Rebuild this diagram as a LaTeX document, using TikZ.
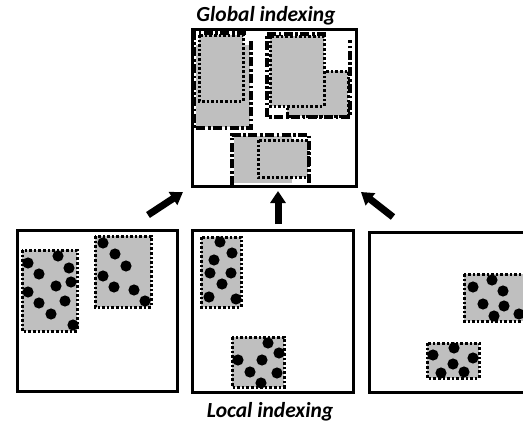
\documentclass[tikz,border=0pt]{standalone}
\usepackage{fontspec}
\setmainfont{Carlito}
\usetikzlibrary{arrows.meta}
\definecolor{boxgray}{RGB}{191,191,191}
\begin{document}
\begin{tikzpicture}[x=1pt,y=-1pt,
  frame/.style={draw=black, line width=3.4pt, inner sep=0pt, anchor=north west},
  localbox/.style={fill=boxgray, draw=black, line width=3pt, dash pattern=on 2.6pt off 2pt},
  globline/.style={draw=black, line width=3.2pt, dash pattern=on 9pt off 2.5pt on 2.6pt off 2.5pt},
  pt/.style={fill=black},
  bigarrow/.style={draw=black, line width=7pt, -{Triangle[width=15pt,length=12pt]}},
  title/.style={font=\fontsize{21.5}{24}\selectfont\bfseries\itshape, inner sep=0pt, anchor=base}]
\useasboundingbox (0,0) rectangle (523,423);
\clip (0,0) rectangle (523,423);

% ---- titles
\node[title] (gt) at (266,21) {Global indexing};
\node[title] (lt) at (270,417) {Local indexing};

% ---- global box content
% left group
\fill[boxgray] (196,45) rectangle (250,127);
\draw[localbox] (199,35) rectangle (243,101);
\draw[globline] (246,33) -- (194,33) -- (194,128) -- (251,128) -- (251,41);
% right group
\draw[localbox] (287,71) rectangle (348,116);
\draw[localbox] (270,36) rectangle (324,106);
\draw[globline] (326,34) -- (267,34) -- (267,117) -- (350,117) -- (350,40);
% bottom group
\fill[boxgray] (234,136) rectangle (292,183);
\draw[localbox] (258,140) rectangle (308,177);
\draw[globline] (232,185) -- (232,135) -- (309,135) -- (309,185);

\node[frame, minimum width=164pt, minimum height=157pt] (G) at (191,28) {};

% ---- local boxes
\node[frame, minimum width=160pt, minimum height=161pt] (L1) at (16,229) {};
\node[frame, minimum width=161pt, minimum height=162pt] (L2) at (191,229) {};
\node[frame, minimum width=170pt, minimum height=160pt] (L3) at (368,231) {};

% L1 content
\draw[localbox] (22,250) rectangle (77,331);
\draw[localbox] (95,236) rectangle (151,307);
\foreach \p in {(28,263),(58,256),(69,268),(39,274),(71,282),(56,286),(28,292),(65,301),(39,303),(51,314),(73,325),
                (103,243),(115,254),(126,266),(103,276),(114,287),(134,290),(145,301)}
  \fill[pt] \p circle (5.6pt);

% L2 content
\draw[localbox] (201,237) rectangle (241,307);
\draw[localbox] (232,337) rectangle (284,387);
\foreach \p in {(220,242),(232,253),(214,260),(210,273),(231,273),(222,284),(209,297),(236,299),
                (268,343),(279,353),(238,360),(262,360),(250,372),(277,373),(261,383)}
  \fill[pt] \p circle (5.6pt);

% L3 content
\draw[localbox] (464,274) rectangle (540,321);
\draw[localbox] (427,343) rectangle (479,378);
\foreach \p in {(473,287),(492,280),(503,291),(483,304),(504,306),(494,316),(519,314),
                (433,355),(454,348),(473,358),(453,364),(441,373),(464,372)}
  \fill[pt] \p circle (5.6pt);

% ---- arrows
\coordinate (a1s) at (148,215);
\coordinate (a1e) at (183,192);
\coordinate (a2s) at (278,224);
\coordinate (a2e) at (278,191);
\coordinate (a3s) at (393,217);
\coordinate (a3e) at (361,192);
\draw[bigarrow] (a1s) -- (a1e);
\draw[bigarrow] (a2s) -- (a2e);
\draw[bigarrow] (a3s) -- (a3e);
\end{tikzpicture}
\end{document}
